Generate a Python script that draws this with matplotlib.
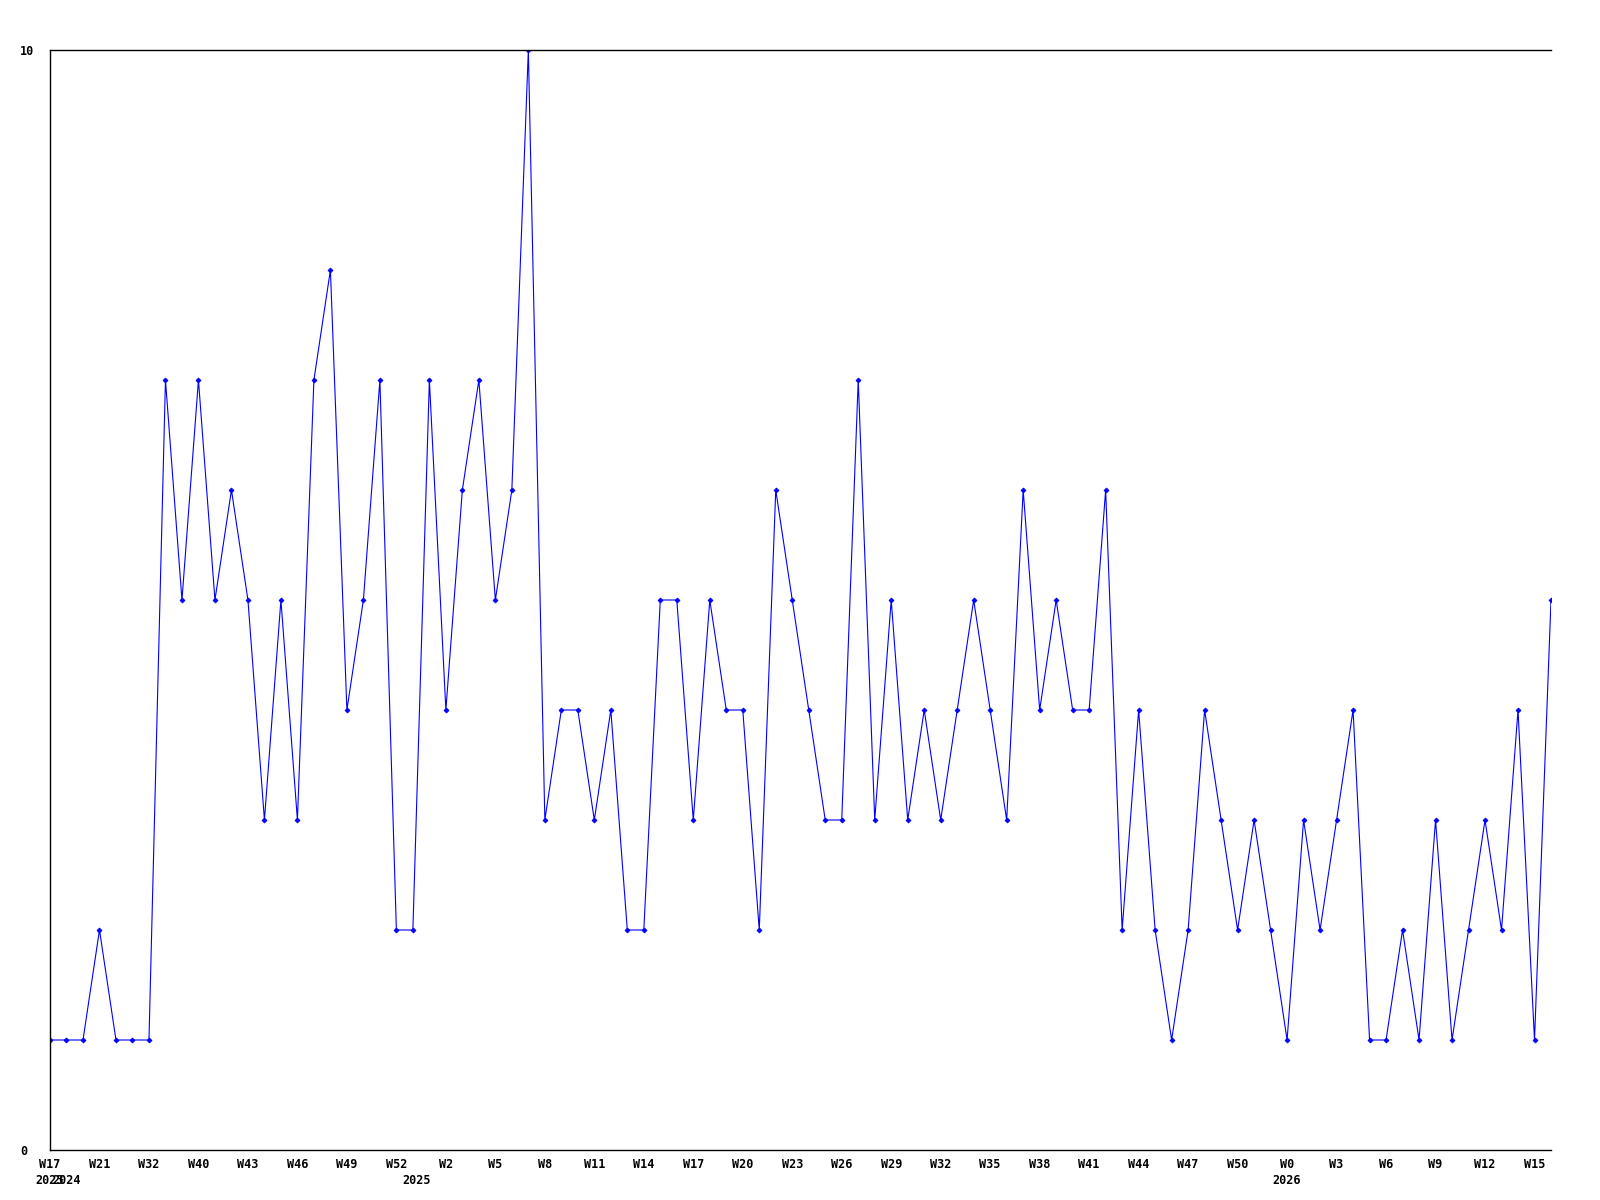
import matplotlib
matplotlib.use('Agg')
import matplotlib.pyplot as plt

# Weekly counts, one point per week in the series
values = [1, 1, 1, 2, 1, 1, 1, 7, 5, 7,
          5, 6, 5, 3, 5, 3, 7, 8, 4, 5,
          7, 2, 2, 7, 4, 6, 7, 5, 6, 10,
          3, 4, 4, 3, 4, 2, 2, 5, 5, 3,
          5, 4, 4, 2, 6, 5, 4, 3, 3, 7,
          3, 5, 3, 4, 3, 4, 5, 4, 3, 6,
          4, 5, 4, 4, 6, 2, 4, 2, 1, 2,
          4, 3, 2, 3, 2, 1, 3, 2, 3, 4,
          1, 1, 2, 1, 3, 1, 2, 3, 2, 4,
          1, 5]

# Week labels shown on every third point
week_labels = ['W17', 'W21', 'W32', 'W40', 'W43', 'W46', 'W49', 'W52', 'W2', 'W5',
               'W8', 'W11', 'W14', 'W17', 'W20', 'W23', 'W26', 'W29', 'W32', 'W35',
               'W38', 'W41', 'W44', 'W47', 'W50', 'W0', 'W3', 'W6', 'W9', 'W12', 'W15']
label_step = 3

# Year labels and the point index where each one sits
year_labels = ['2023', '2024', '2025', '2026']
year_pos = [0, 1, 22.2, 75]

y_ticks = [0, 10]

font = dict(family='DejaVu Sans Mono', weight='bold', size=8.5)

fig = plt.figure(figsize=(16, 12), dpi=100)
ax = fig.add_axes([50 / 1600, 50 / 1200, 1501 / 1600, 1100 / 1200])

x = list(range(len(values)))
ax.plot(x, values, color='#0000ff', linewidth=0.8, marker='D', markersize=2.5,
        markeredgewidth=0.6)

ax.set_xlim(0, len(values) - 1)
ax.set_ylim(0, 10)

ax.spines['right'].set_visible(False)
for s in ['left', 'top', 'bottom']:
    ax.spines[s].set_linewidth(1.0)

ax.set_xticks(x[::label_step][:len(week_labels)])
ax.set_xticklabels(week_labels, fontdict=font)
ax.set_yticks(y_ticks)
ax.set_yticklabels([str(t) for t in y_ticks], fontdict=font, ha='left')
ax.tick_params(axis='x', length=0, pad=5.5)
ax.tick_params(axis='y', length=0, pad=21.6)

# Year row under the week labels
for lab, pos in zip(year_labels, year_pos):
    ax.annotate(lab, xy=(pos, 0), xycoords=('data', 'axes fraction'),
                xytext=(0, -17), textcoords='offset points',
                ha='center', va='top', **font)

plt.savefig('out.png', dpi=100)
